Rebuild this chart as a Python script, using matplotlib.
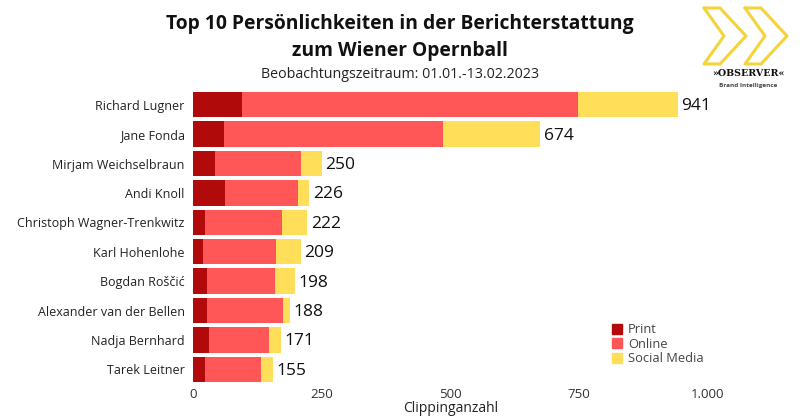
import matplotlib
matplotlib.use("Agg")
import matplotlib.pyplot as plt
from matplotlib.lines import Line2D
import numpy as np

names = ["Richard Lugner", "Jane Fonda", "Mirjam Weichselbraun", "Andi Knoll",
         "Christoph Wagner-Trenkwitz", "Karl Hohenlohe", "Bogdan Roščić",
         "Alexander van der Bellen", "Nadja Bernhard", "Tarek Leitner"]
print_vals = [96, 61, 43, 62, 23, 19, 28, 27, 31, 23]
online_vals = [652, 424, 166, 141, 150, 143, 132, 148, 116, 110]
social_vals = [193, 189, 41, 23, 49, 47, 38, 13, 24, 22]
totals = [941, 674, 250, 226, 222, 209, 198, 188, 171, 155]
xticks = [0, 250, 500, 750, 1000]
xticklabels = ["0", "250", "500", "750", "1.000"]

c_print = "#B00A0A"
c_online = "#FF5757"
c_social = "#FFDE59"

plt.rcParams['font.family'] = ['Open Sans', 'DejaVu Sans']

fig = plt.figure(figsize=(8, 4.18), dpi=100)
ax = fig.add_axes([193/800, 1-384/418, (708-193)/800, (384-90)/418])

y = np.arange(len(names))
p = np.array(print_vals)
o = np.array(online_vals)
s = np.array(social_vals)
h = 0.86
ax.barh(y, p, height=h, color=c_print)
ax.barh(y, o, left=p, height=h, color=c_online)
ax.barh(y, s, left=p + o, height=h, color=c_social)
for yi, t in zip(y, totals):
    ax.text(t + 7, yi + 0.05, str(t), va='center', ha='left', fontsize=12.5, color='#111111')

ax.set_ylim(len(names) - 0.5, -0.5)
ax.set_xlim(0, 1000)
ax.set_yticks(y)
ax.set_yticklabels(names, fontsize=9, color='#222222')
ax.set_xticks(xticks)
ax.set_xticklabels(xticklabels, fontsize=9.5, color='#333333')
ax.tick_params(length=0, pad=6)
ax.tick_params(axis='x', pad=3)
for sp in ax.spines.values():
    sp.set_visible(False)
ax.set_xlabel("Clippinganzahl", fontsize=10, color='#222222', labelpad=0)

handles = [Line2D([], [], marker='s', color='none', markerfacecolor=c, markeredgecolor=c, markersize=7)
           for c in (c_print, c_online, c_social)]
fig.legend(handles, ["Print", "Online", "Social Media"], loc='upper left',
           bbox_to_anchor=(604/800, 1-317/418), frameon=False, fontsize=9.3,
           handletextpad=0.35, labelspacing=0.1, handlelength=1.0, borderpad=0,
           labelcolor='#444444')

fig.text(400/800, 1-24/418, "Top 10 Persönlichkeiten in der Berichterstattung",
         ha='center', va='center', fontsize=13.9, fontweight='bold', color='#111111')
fig.text(400/800, 1-51/418, "zum Wiener Opernball",
         ha='center', va='center', fontsize=13.9, fontweight='bold', color='#111111')
fig.text(400/800, 1-75/418, "Beobachtungszeitraum: 01.01.-13.02.2023",
         ha='center', va='center', fontsize=10.3, color='#222222')

# logo
lx = fig.add_axes([695/800, 1-92/418, 105/800, 92/418])
lx.set_xlim(695, 800); lx.set_ylim(92, 0); lx.axis('off')
for x0 in (704, 745):
    xs = [x0, x0 + 16, x0 + 42, x0 + 16, x0, x0 + 20, x0]
    ys = [8, 8, 36, 64, 64, 36, 8]
    lx.plot(xs, ys, color='#F5D33A', lw=2.2, solid_joinstyle='round', solid_capstyle='round')
lx.text(748, 74, "»OBSERVER«", ha='center', va='center', fontsize=6.8,
        fontweight='bold', family=['DejaVu Serif'], color='#111111')
lx.text(748, 85, "Brand Intelligence", ha='center', va='center', fontsize=4.6,
        fontweight='bold', color='#444444')

fig.savefig("out.png", dpi=100, facecolor='white')
